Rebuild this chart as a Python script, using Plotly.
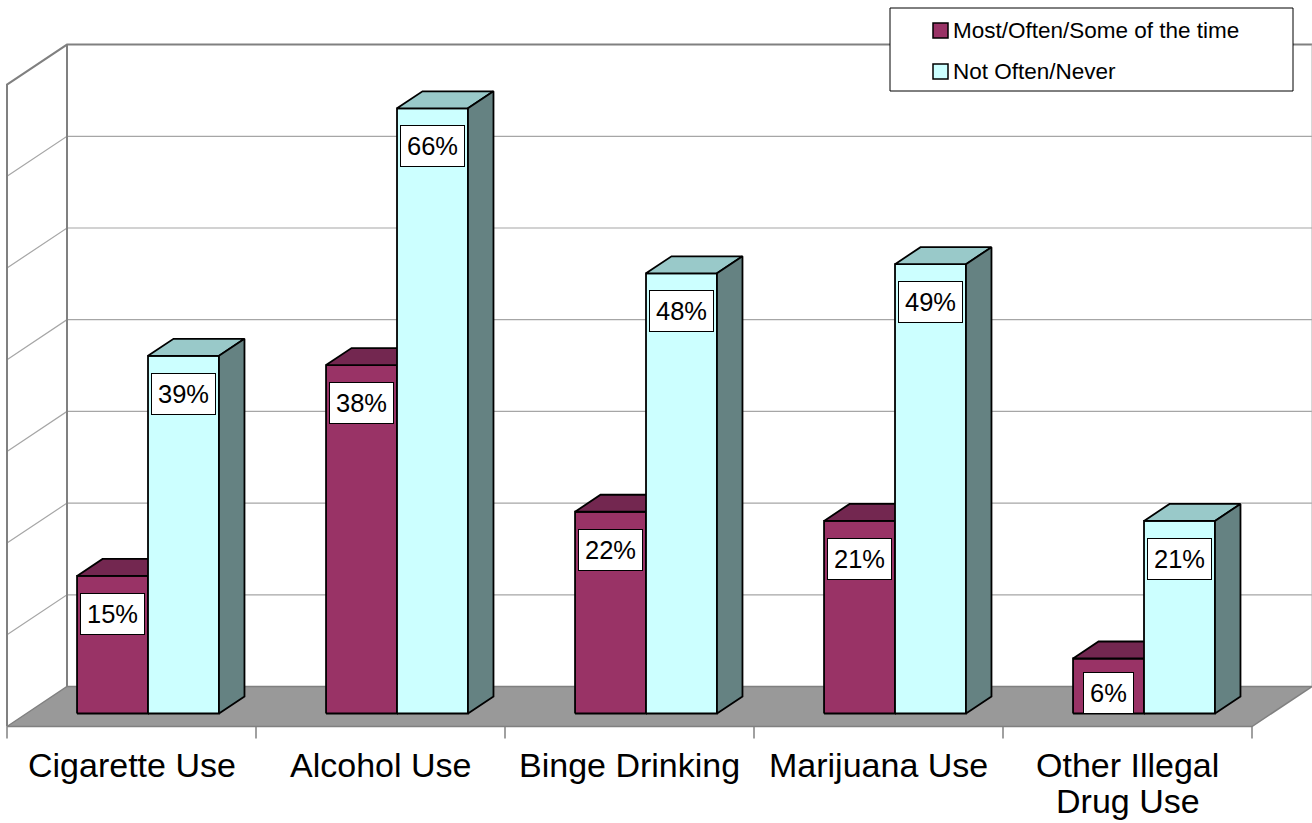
import plotly.graph_objects as go

# ---------------- data ----------------
categories = ["Cigarette Use", "Alcohol Use", "Binge Drinking", "Marijuana Use", "Other Illegal<br>Drug Use"]
series_names = ["Most/Often/Some of the time", "Not Often/Never"]
most_often = [15, 38, 22, 21, 6]
not_often = [39, 66, 48, 49, 21]
grid_values = [0, 10, 20, 30, 40, 50, 60, 70]

# ---------------- styling / projection ----------------
W, H = 1312, 823
PX_U = 249.0          # pixels per category slot
X0 = 7.0              # pixel of slot 0 front edge
PX_V = 9.17           # pixels per percent
Y0 = 713.5            # pixel of value 0 at bar front
DXD = 60.0 / PX_U     # full depth, x shift (slot units)
DYD = 40.0 / PX_V     # full depth, y shift (percent units)
F0, F1 = 0.325, 0.75  # bar front / back depth
S_OFF, BW = 0.203, 0.285

FACE = {0: ("#993366", "#732750", "#5c1f3d"), 1: ("#CCFFFF", "#99C9C9", "#658282")}
FONT = "Liberation Sans, Arial, sans-serif"

def P(s, d, v):
    """project (slot pos, depth fraction, value) to axis coords"""
    return s + d * DXD, v + (d - F0) * DYD

fig = go.Figure()

def poly(pts, fill, line_color="black", width=1.8):
    xs = [p[0] for p in pts] + [pts[0][0]]
    ys = [p[1] for p in pts] + [pts[0][1]]
    fig.add_trace(go.Scatter(x=xs, y=ys, mode="lines", fill="toself", fillcolor=fill,
                             line=dict(color=line_color, width=width),
                             hoverinfo="skip", showlegend=False))

def line(pts, color, width):
    fig.add_trace(go.Scatter(x=[p[0] for p in pts], y=[p[1] for p in pts], mode="lines",
                             line=dict(color=color, width=width),
                             hoverinfo="skip", showlegend=False))

n = len(categories)
vmax = grid_values[-1]

# gridlines (left wall diagonal + back wall horizontal)
for g in grid_values[1:-1]:
    line([P(0, 0, g), P(0, 1, g), P(n, 1, g)], "#a6a6a6", 1.2)
# wall frame
line([P(0, 0, 0), P(0, 0, vmax), P(0, 1, vmax), P(n, 1, vmax)], "#808080", 2)
line([P(0, 1, 0), P(0, 1, vmax)], "#808080", 2)
line([P(n, 1, 0), P(n, 1, vmax)], "#b0b0b0", 1)

# floor
poly([P(0, 0, 0), P(n, 0, 0), P(n, 1, 0), P(0, 1, 0)], "#999999", "#808080", 1.5)
# ticks
tick_len = 12.0 / PX_V
for i in range(n + 1):
    x, y = P(i, 0, 0)
    line([(x, y), (x, y - tick_len)], "#808080", 1.5)

# bars
for i in range(n):
    for k, vals in enumerate([most_often, not_often]):
        v = vals[i]
        s0 = i + S_OFF + k * BW
        s1 = s0 + BW
        front, top, side = FACE[k]
        poly([P(s0, F0, 0), P(s1, F0, 0), P(s1, F0, v), P(s0, F0, v)], front)
        poly([P(s0, F0, v), P(s1, F0, v), P(s1, F1, v), P(s0, F1, v)], top)
        poly([P(s1, F0, 0), P(s1, F1, 0), P(s1, F1, v), P(s1, F0, v)], side)
        # data label
        cx, _ = P(s0 + BW / 2, F0, 0)
        ly = max(v - 17.0 / PX_V, 42.0 / PX_V)
        fig.add_annotation(x=cx, y=ly, xref="x", yref="y", text=f"{v}%", showarrow=False,
                           yanchor="top", xanchor="center", bgcolor="white",
                           bordercolor="black", borderwidth=1, borderpad=6,
                           font=dict(family=FONT, size=25.5, color="black"))

# category labels
for i, c in enumerate(categories):
    cx, cy = P(i + 0.5, 0, 0)
    for j, part in enumerate(c.split("<br>")):
        fig.add_annotation(x=cx, y=cy - (17.0 + 36.0 * j) / PX_V, xref="x", yref="y", text=part,
                           showarrow=False, yanchor="top", xanchor="center",
                           font=dict(family=FONT, size=34, color="black"))

# legend (manual, paper coords)
def px2paper(px, py):
    return px / W, 1 - py / H

lx0, ly0 = px2paper(890, 8)
lx1, ly1 = px2paper(1293, 91)
fig.add_shape(type="rect", xref="paper", yref="paper", x0=lx0, y0=ly1, x1=lx1, y1=ly0,
              fillcolor="white", line=dict(color="black", width=1), layer="above")
for k, name in enumerate(series_names):
    cy = 30.5 + 41 * k
    a = px2paper(933, cy - 7.5)
    b = px2paper(948, cy + 7.5)
    fig.add_shape(type="rect", xref="paper", yref="paper", x0=a[0], y0=b[1], x1=b[0], y1=a[1],
                  fillcolor=FACE[k][0], line=dict(color="black", width=1.5), layer="above")
    tx, ty = px2paper(951, cy)
    fig.add_annotation(x=tx, y=ty, xref="paper", yref="paper", text=name, showarrow=False,
                       xanchor="left", yanchor="middle",
                       font=dict(family=FONT, size=22.5, color="black"))

xr = [(0 - X0) / PX_U, (W - X0) / PX_U]
yr = [(Y0 - H) / PX_V, (Y0 - 0) / PX_V]
fig.update_layout(width=W, height=H, margin=dict(l=0, r=0, t=0, b=0),
                  paper_bgcolor="white", plot_bgcolor="white", showlegend=False,
                  xaxis=dict(range=xr, visible=False, fixedrange=True),
                  yaxis=dict(range=yr, visible=False, fixedrange=True))

fig.write_html("out.html", config={"displayModeBar": False},
               post_script="document.body.style.margin='0px';document.body.style.overflow='hidden';")
